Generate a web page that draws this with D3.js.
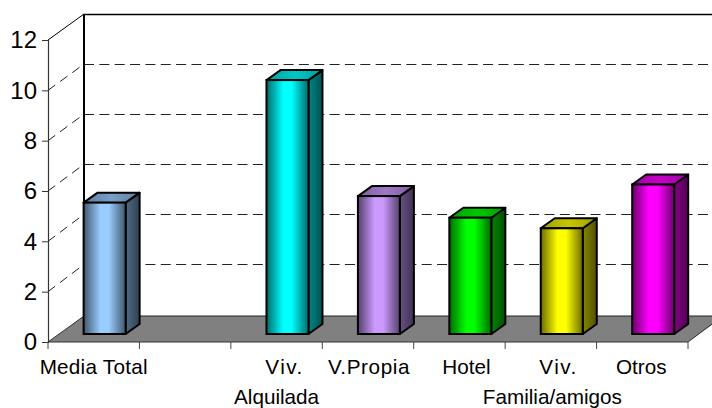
<!DOCTYPE html>
<html><head><meta charset="utf-8">
<script src="https://cdn.jsdelivr.net/npm/d3@7"></script>
<style>
html,body{margin:0;padding:0;background:#fff;overflow:hidden}
svg{display:block}
text{font-family:"Liberation Sans",Arial,sans-serif;fill:#000}
</style></head><body>
<svg id="c" width="712" height="408"></svg>
<script>
const categories = ["Media Total", "", "Viv.", "V.Propia", "Hotel", "Viv.", "Otros"];
const values = [5.22, null, 10.09, 5.48, 4.62, 4.2, 5.94];
const barColors = ["#99ccff", null, "#00ffff", "#cc99ff", "#00ff00", "#ffff00", "#ff00ff"];
const yTicks = [0, 2, 4, 6, 8, 10, 12];
const groupLabels = ["Alquilada", "Familia/amigos"];

const svg = d3.select("#c");
const defs = svg.append("defs");

const x = d3.scaleBand().domain(d3.range(categories.length)).range([48, 688]);
const y = d3.scaleLinear().domain([0, 12]).range([342, 40]);
const yBack = d3.scaleLinear().domain([0, 12]).range([314.5, 14]);
const floorBack = 316;
const barW = 42, barDX = 14, barDY = -10;
const barOffX = 10.9, base = 334;

// floor
svg.append("polygon")
  .attr("points", [[48, y(0)], [84, floorBack], [724, floorBack], [688, y(0)]].join(" "))
  .attr("fill", "#808080");
svg.append("line").attr("x1", 84).attr("x2", 712).attr("y1", floorBack).attr("y2", floorBack)
  .attr("stroke", "#222").attr("stroke-width", 1);
svg.append("line").attr("x1", 48).attr("x2", 688).attr("y1", y(0)).attr("y2", y(0))
  .attr("stroke", "#333").attr("stroke-width", 1.2);
svg.append("line").attr("x1", 688).attr("x2", 712).attr("y1", y(0)).attr("y2", y(0) - 18)
  .attr("stroke", "#333").attr("stroke-width", 1);
svg.append("line").attr("x1", 48).attr("x2", 84).attr("y1", y(0)).attr("y2", floorBack)
  .attr("stroke", "#333").attr("stroke-width", 1);

// back-wall gridlines
const grid = svg.append("g");
grid.selectAll("line.back").data(yTicks.filter(d => d > 0)).join("line").attr("class", "back")
  .attr("x1", 84).attr("x2", 712)
  .attr("y1", d => Math.round(yBack(d)) + .5).attr("y2", d => Math.round(yBack(d)) + .5)
  .attr("stroke", d => d === 12 ? "#000" : "#222").attr("stroke-width", d => d === 12 ? 1.4 : 1)
  .attr("stroke-dasharray", d => d === 12 ? null : "10 5.35");
// side-wall gridlines
grid.selectAll("line.side").data(yTicks.filter(d => d > 0 && d < 12)).join("line").attr("class", "side")
  .attr("x1", 48).attr("x2", 84)
  .attr("y1", d => y(d)).attr("y2", d => yBack(d))
  .attr("stroke", "#222").attr("stroke-width", 1).attr("stroke-dasharray", "9 6 9 6 9 30");

// wall edges
svg.append("line").attr("x1", 84).attr("x2", 84).attr("y1", yBack(12)).attr("y2", floorBack)
  .attr("stroke", "#000").attr("stroke-width", 2);
svg.append("line").attr("x1", 48).attr("x2", 84).attr("y1", y(12)).attr("y2", yBack(12))
  .attr("stroke", "#000").attr("stroke-width", 1);

// y axis
const yAxis = d3.axisLeft(y).tickValues(yTicks).tickSize(6).tickPadding(5);
const gy = svg.append("g").attr("transform", "translate(48,0)").call(yAxis);
gy.select(".domain").attr("stroke", "#333").attr("stroke-width", 1.2);
gy.selectAll(".tick line").attr("stroke", "#333");
gy.selectAll("text").attr("font-size", 24).attr("font-family", "Liberation Sans").attr("fill", "#000");

// x axis ticks (between categories)
const bottom = svg.append("g");
bottom.selectAll("line").data(d3.range(categories.length + 1)).join("line")
  .attr("x1", i => x(0) + i * x.step()).attr("x2", i => x(0) + i * x.step())
  .attr("y1", y(0)).attr("y2", y(0) + 7)
  .attr("stroke", "#444").attr("stroke-width", 1);

const labelNudge = [0, 0, 8, 1, 7, 7.7, -1];
const labelSpacing = [0.25, 0, 1.5, 0.6, 0, 1.5, 0];
bottom.selectAll("text.cat").data(categories).join("text").attr("class", "cat")
  .attr("x", (d, i) => x(i) + x.step() / 2 + labelNudge[i])
  .attr("y", 374).attr("text-anchor", "middle").attr("font-size", 20.7)
  .attr("letter-spacing", (d, i) => labelSpacing[i]).text(d => d);
const groupX = [2, 5];
bottom.selectAll("text.grp").data(groupLabels).join("text").attr("class", "grp")
  .attr("x", (d, i) => x(groupX[i]) + x.step() / 2 + [0, 1.5][i])
  .attr("y", 404).attr("text-anchor", "middle").attr("font-size", 20.7).text(d => d);

// bars
const rows = categories.map((c, i) => ({ i, c, v: values[i], col: barColors[i] })).filter(d => d.v != null);
function shade(col, k) { const c = d3.rgb(col); return d3.rgb(c.r * k, c.g * k, c.b * k).formatHex(); }
function gradient(id, col, stops) {
  const g = defs.append("linearGradient").attr("id", id).attr("x1", 0).attr("x2", 1).attr("y1", 0).attr("y2", 0);
  stops.forEach(([o, f]) => g.append("stop").attr("offset", o).attr("stop-color", shade(col, f)));
}
rows.forEach(d => {
  gradient("f" + d.i, d.col, [[0, .42], [.4, 1], [.6, 1], [1, .42]]);
  gradient("s" + d.i, d.col, [[0, .52], [1, .32]]);
  gradient("t" + d.i, d.col, [[0, .62], [.5, .78], [1, .62]]);
});
const bars = svg.append("g").selectAll("g").data(rows).join("g");
const bx = d => x(d.i) + x.step() / 2 + barOffX - barW / 2;
const top_ = d => base - (y(0) - y(d.v));

// side
bars.append("polygon").attr("fill", d => `url(#s${d.i})`)
  .attr("points", d => [[bx(d) + barW, base], [bx(d) + barW + barDX, base + barDY],
    [bx(d) + barW + barDX, top_(d) + barDY], [bx(d) + barW, top_(d)]].join(" "))
  .attr("stroke", "#000").attr("stroke-width", 2).attr("stroke-linejoin", "round");
// top
bars.append("polygon").attr("fill", d => `url(#t${d.i})`)
  .attr("points", d => [[bx(d), top_(d)], [bx(d) + barDX, top_(d) + barDY],
    [bx(d) + barW + barDX, top_(d) + barDY], [bx(d) + barW, top_(d)]].join(" "))
  .attr("stroke", "#000").attr("stroke-width", 2).attr("stroke-linejoin", "round");
// front
bars.append("rect").attr("x", bx).attr("y", top_).attr("width", barW).attr("height", d => base - top_(d))
  .attr("fill", d => `url(#f${d.i})`).attr("stroke", "#000").attr("stroke-width", 2);
</script>
</body></html>
